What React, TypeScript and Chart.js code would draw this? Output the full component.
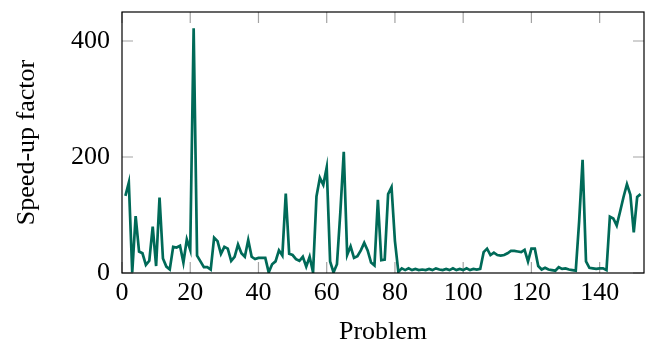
import { useEffect, useRef } from "react";
import { Chart, registerables } from "chart.js";

Chart.register(...registerables);

// Speed-up factor per problem (problem number = index + 1)
const speedUp: number[] = [
  133, 156, 1, 98, 37, 34, 14, 21, 80, 12,
  130, 25, 11, 6, 45, 44, 47, 18, 58, 40,
  422, 30, 20, 10, 10, 6, 61, 55, 33, 45,
  42, 21, 28, 49, 34, 28, 57, 28, 24, 26,
  26, 26, 1, 15, 20, 39, 30, 137, 33, 31,
  24, 21, 28, 11, 28, 1, 132, 164, 152, 182,
  20, 1, 15, 105, 209, 31, 46, 26, 29, 39,
  52, 39, 18, 13, 126, 22, 23, 136, 148, 55,
  2, 8, 5, 8, 5, 7, 5, 6, 5, 7,
  5, 8, 6, 5, 7, 5, 8, 5, 7, 5,
  8, 5, 7, 6, 7, 36, 42, 31, 35, 31,
  30, 31, 34, 38, 38, 37, 36, 40, 20, 42,
  42, 12, 6, 9, 6, 5, 4, 10, 7, 8,
  6, 5, 4, 90, 195, 20, 9, 8, 7, 8,
  8, 5, 97, 94, 82, 106, 131, 153, 135, 70,
  131, 136,
];

const xTicks: number[] = [0, 20, 40, 60, 80, 100, 120, 140];
const yTicks: number[] = [0, 200, 400];
const xRange: number[] = [0, 153];
const yRange: number[] = [0, 450];

const LINE_COLOR = "rgb(0,106,88)";
const FONT = "'Liberation Serif', 'Times New Roman', serif";
const TICK_LEN = 11;

const frameAndTicks = {
  id: "frameAndTicks",
  beforeDatasetsDraw(chart: any) {
    const { ctx, chartArea, scales } = chart;
    const { left, right, top, bottom } = chartArea;
    ctx.save();
    ctx.strokeStyle = "#a3a3a3";
    ctx.lineWidth = 1.2;
    ctx.beginPath();
    for (const v of xTicks) {
      const px = scales.x.getPixelForValue(v);
      ctx.moveTo(px, bottom);
      ctx.lineTo(px, bottom - TICK_LEN);
      ctx.moveTo(px, top);
      ctx.lineTo(px, top + TICK_LEN);
    }
    for (const v of yTicks) {
      const py = scales.y.getPixelForValue(v);
      ctx.moveTo(left, py);
      ctx.lineTo(left + TICK_LEN, py);
      ctx.moveTo(right, py);
      ctx.lineTo(right - TICK_LEN, py);
    }
    ctx.stroke();
    ctx.restore();
  },
  afterDatasetsDraw(chart: any) {
    const { ctx, chartArea } = chart;
    const { left, right, top, bottom } = chartArea;
    ctx.save();
    ctx.strokeStyle = "#000";
    ctx.lineWidth = 1.2;
    ctx.strokeRect(left, top, right - left, bottom - top);
    ctx.restore();
  },
};

export default function App() {
  const ref = useRef<HTMLCanvasElement | null>(null);

  useEffect(() => {
    document.body.style.margin = "0";
    const canvas = ref.current;
    if (!canvas) return;
    const chart = new Chart(canvas, {
      type: "line",
      data: {
        datasets: [
          {
            data: speedUp.map((v, i) => ({ x: i + 1, y: v })),
            borderColor: LINE_COLOR,
            borderWidth: 2.7,
            pointRadius: 0,
            tension: 0,
            borderJoinStyle: "miter",
            fill: false,
          },
        ],
      },
      options: {
        animation: false,
        responsive: false,
        devicePixelRatio: 1,
        layout: { padding: { top: 12, right: 9, left: 0, bottom: 0 } },
        plugins: {
          legend: { display: false },
          tooltip: { enabled: false },
        },
        scales: {
          x: {
            type: "linear",
            min: xRange[0],
            max: xRange[1],
            grid: { display: false, drawTicks: false },
            border: { display: false },
            afterBuildTicks: (scale: any) => {
              scale.ticks = xTicks.map((v) => ({ value: v }));
            },
            afterFit: (scale: any) => {
              scale.height = 72;
              scale.paddingLeft = 0;
              scale.paddingRight = 0;
            },
            ticks: {
              color: "#000",
              padding: 5,
              maxRotation: 0,
              autoSkip: false,
              font: { family: FONT, size: 26 },
            },
            title: {
              display: true,
              text: "Problem",
              color: "#000",
              font: { family: FONT, size: 26 },
              padding: { top: 0, bottom: -3 },
            },
          },
          y: {
            type: "linear",
            min: yRange[0],
            max: yRange[1],
            grid: { display: false, drawTicks: false },
            border: { display: false },
            afterBuildTicks: (scale: any) => {
              scale.ticks = yTicks.map((v) => ({ value: v }));
            },
            afterFit: (scale: any) => {
              scale.width = 122;
              scale.paddingTop = 0;
              scale.paddingBottom = 0;
            },
            ticks: {
              color: "#000",
              padding: 12,
              font: { family: FONT, size: 26 },
            },
            title: {
              display: true,
              text: "Speed-up factor",
              color: "#000",
              font: { family: FONT, size: 26 },
              padding: { top: 12, bottom: 0 },
            },
          },
        },
      },
      plugins: [frameAndTicks],
    });
    return () => chart.destroy();
  }, []);

  return (
    <canvas
      ref={ref}
      width={653}
      height={345}
      style={{ display: "block", width: 653, height: 345 }}
    />
  );
}
